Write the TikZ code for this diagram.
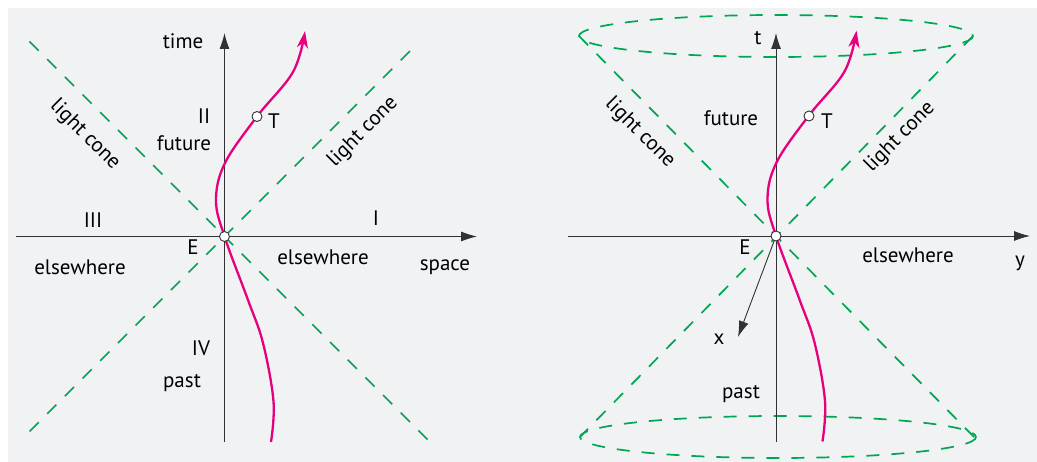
\documentclass[tikz,border=0pt]{standalone}
\usepackage{fontspec}
\setmainfont{PT Sans}
\usetikzlibrary{arrows.meta}
\definecolor{bggray}{RGB}{241,242,244}
\definecolor{conegreen}{RGB}{0,166,81}
\definecolor{wlmagenta}{RGB}{230,0,126}
\definecolor{axisgray}{RGB}{50,50,50}
\tikzset{
  axis/.style={draw=axisgray, line width=0.9pt, -{Latex[length=16pt,width=10pt]}},
  cone/.style={draw=conegreen, line width=1.7pt, dash pattern=on 13pt off 12pt},
  worldline/.style={draw=wlmagenta, line width=2.3pt, -{Stealth[length=17pt,width=11pt,inset=5pt]}},
  event/.style={circle, draw=axisgray, fill=white, inner sep=0pt, minimum size=10pt, line width=0.9pt},
  lbl/.style={font=\fontsize{21}{24}\selectfont, text=black}
}
% world line through the event at (0,0)
\newcommand{\worldline}{%
  \draw[worldline] plot[smooth, tension=0.6] coordinates {(46.5,205.5) (49,165) (38.5,106.5)
    (23.5,63.5) (0,0) (-8.5,-36.5) (0.5,-73.5) (32.5,-120) (68.5,-164.5) (80.5,-205.5)};}
\begin{document}
\begin{tikzpicture}[x=1pt, y=-1pt, every node/.style={lbl}]
  \useasboundingbox (0,0) rectangle (1037,462);
  \fill[bggray] (8,8) rectangle (1037,462);
  % space-time diagram
  \begin{scope}[shift={(224.5,236.5)}]
    \draw[cone] (-195,-195) -- (211,211);
    \draw[cone] (-195,195) -- (190,-190);
    \draw[axis] (-208.5,0) -- (252.5,0);
    \draw[axis] (0,205.5) -- (0,-203.5);
    \worldline
    \node[event] (E1) at (0,0) {};
    \node[event] (T1) at (32.5,-120) {};
    \node at (-31.5,10.5) {E};
    \node at (49.5,-115.5) {T};
    \node at (-41.5,-195.5) {time};
    \node at (220.5,30.5) {space};
    \node at (-20.5,-120.5) {II};
    \node at (-40.5,-93.5) {future};
    \node at (-131.5,-16.5) {III};
    \node at (151.5,-18.5) {I};
    \node at (-144.5,30.5) {elsewhere};
    \node at (98.5,20.5) {elsewhere};
    \node at (-23.5,111.5) {IV};
    \node at (-42.5,146.5) {past};
    \node[rotate=-45] at (-139.5,-101.5) {light cone};
    \node[rotate=45] at (138.5,-104.5) {light cone};
  \end{scope}
  % light cone in 3d
  \begin{scope}[shift={(776,236)}]
    \draw[cone] (0,-200) ellipse [x radius=197, y radius=21];
    \draw[cone] (2,201) ellipse [x radius=198, y radius=21];
    \draw[cone] (-197,-200) -- (198,201);
    \draw[cone] (197,-200) -- (-196,201);
    \draw[axis] (-208,0) -- (254,0);
    \draw[axis] (0,206) -- (0,-203);
    \draw[axis] (0,0) -- (-38,101);
    \worldline
    \node[event] (E2) at (0,0) {};
    \node[event] (T2) at (33,-120) {};
    \node at (-31,11) {E};
    \node at (51,-115) {T};
    \node at (-18,-198) {t};
    \node at (244,27) {y};
    \node at (-57,103) {x};
    \node at (-45,-118) {future};
    \node at (132,19) {elsewhere};
    \node at (-35,158) {past};
    \node[rotate=-45] at (-136,-103) {light cone};
    \node[rotate=45] at (124,-99) {light cone};
  \end{scope}
\end{tikzpicture}
\end{document}
